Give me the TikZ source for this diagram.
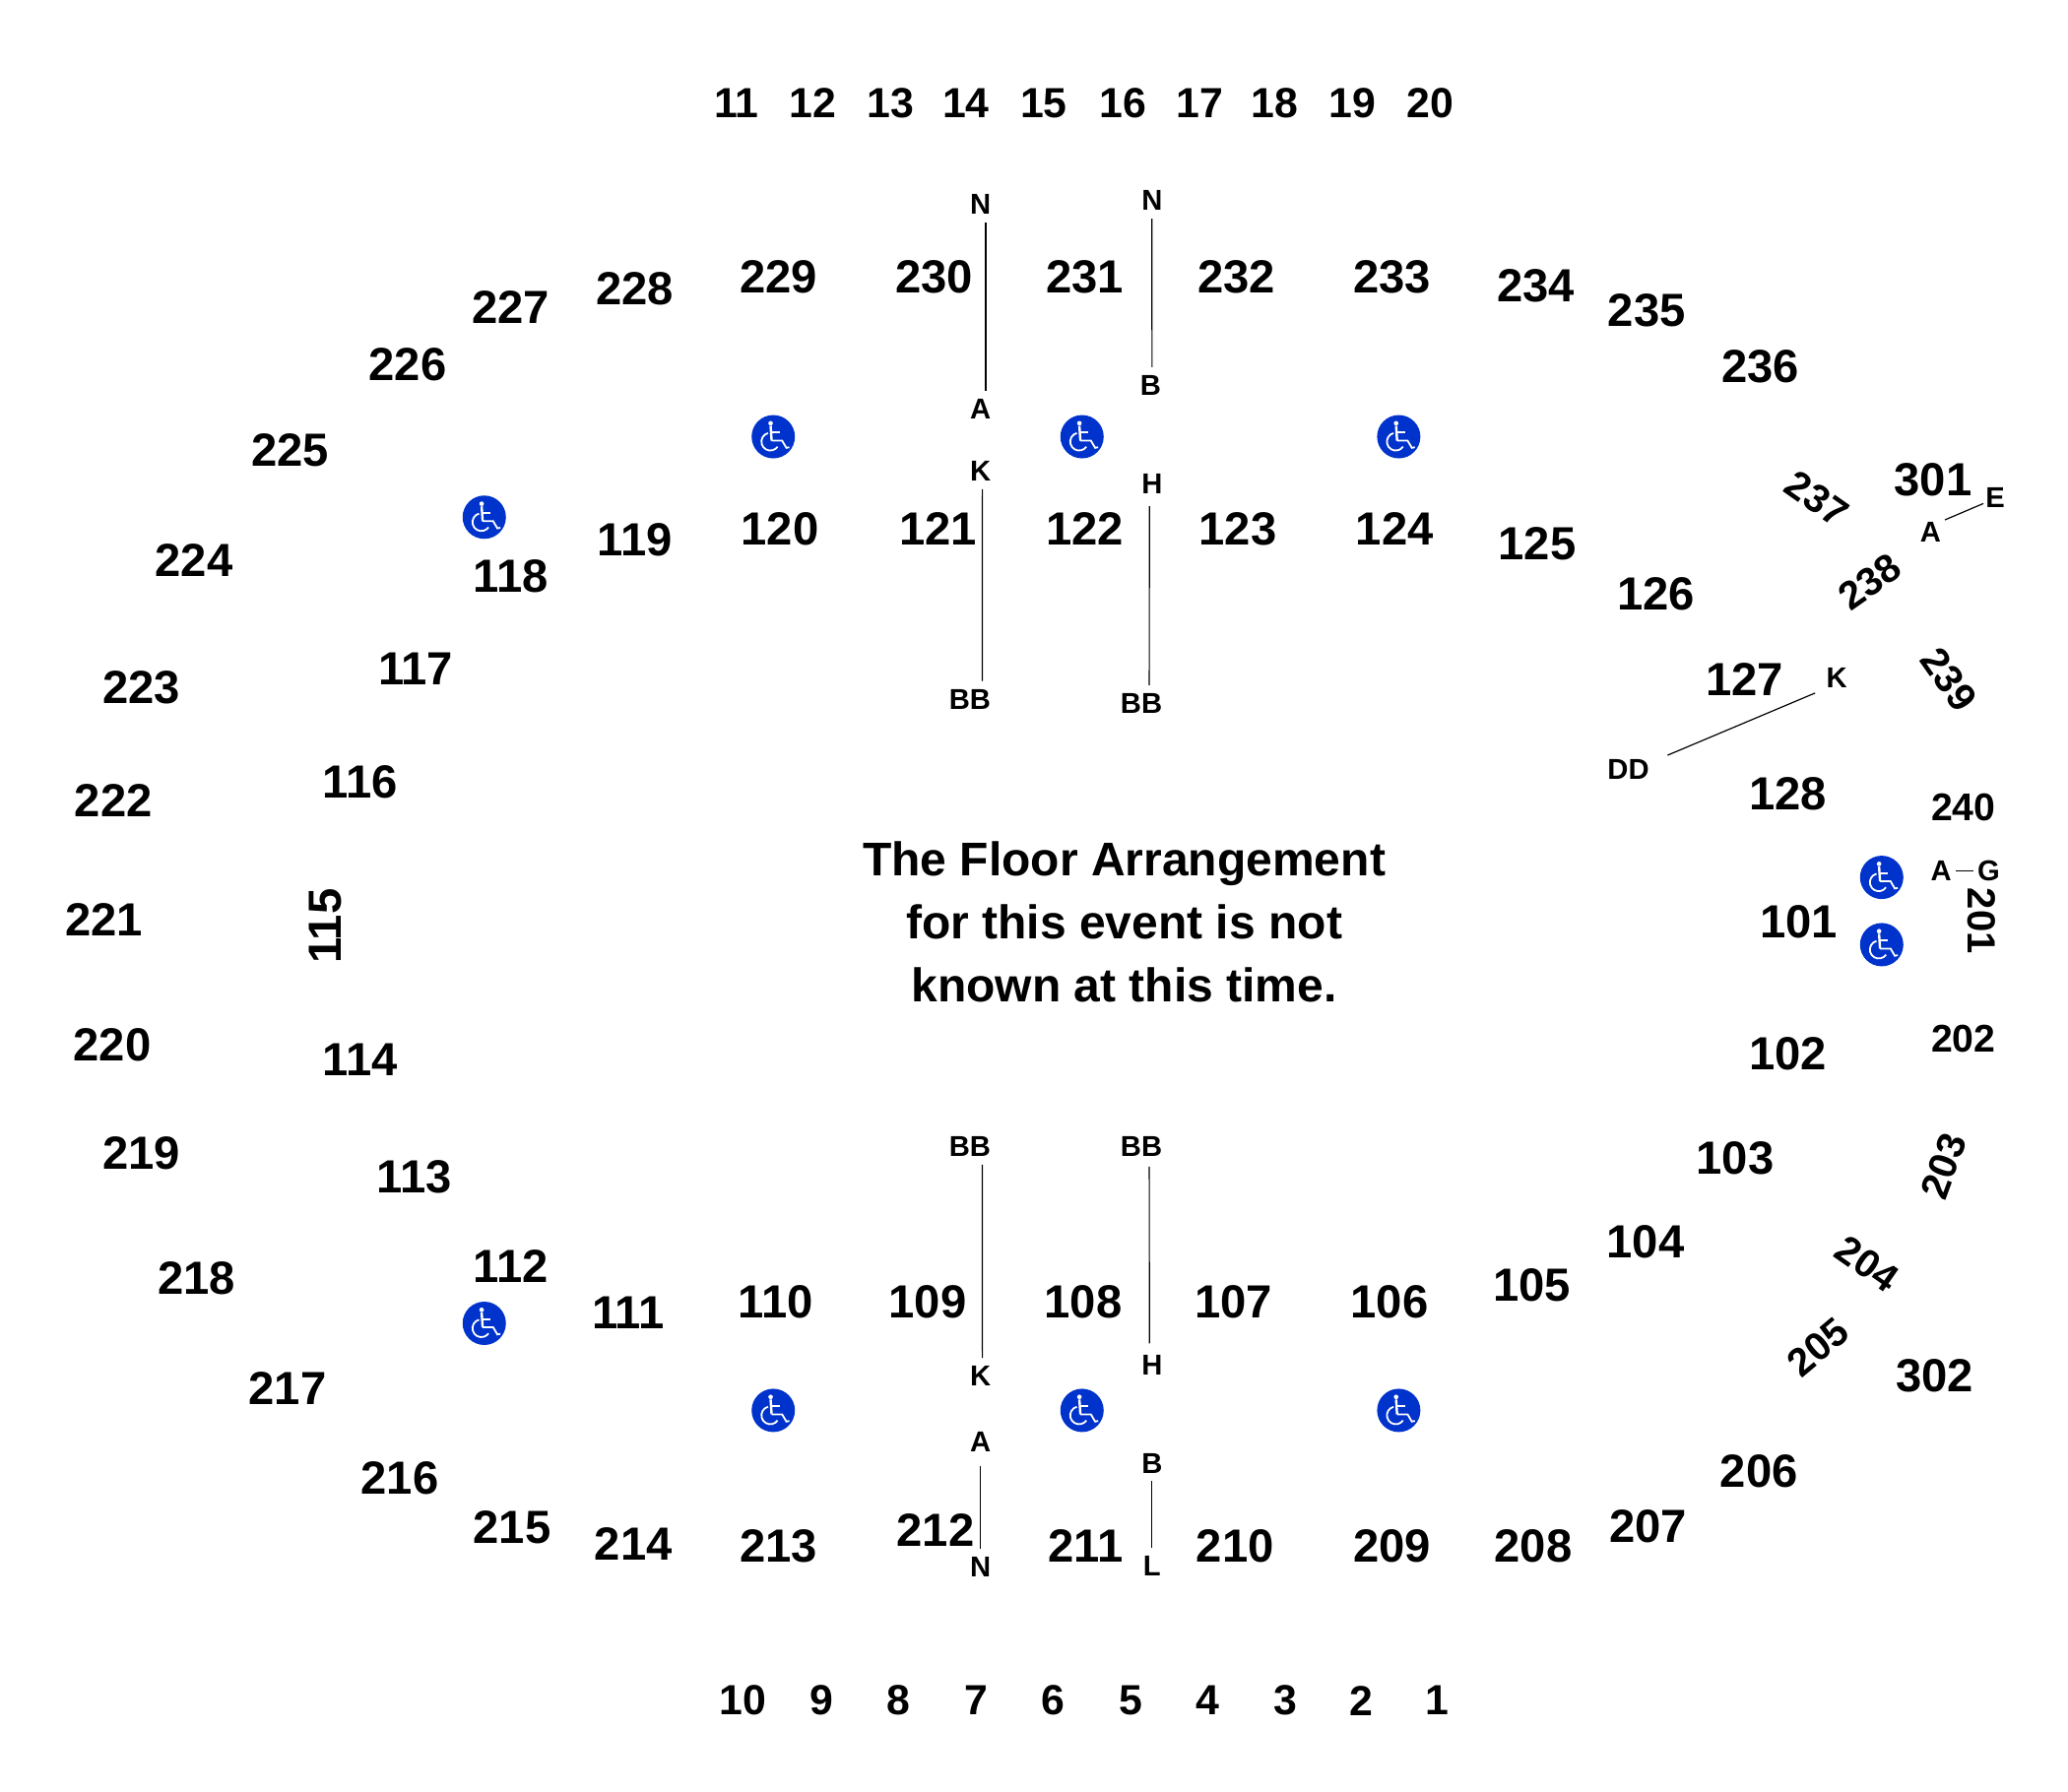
\documentclass[tikz,border=0pt]{standalone}
\usepackage{fontspec}
\setmainfont{Liberation Sans}
\definecolor{accessblue}{HTML}{0033CC}

\begin{document}
\begin{tikzpicture}[x=0.67pt,y=-0.67pt,
    section/.style ={inner sep = 0pt, font=\bfseries\fontsize{23.6}{24}\selectfont},
    sloped/.style ={inner sep = 0pt, font=\bfseries\fontsize{20}{20}\selectfont},
    smallsec/.style ={inner sep = 0pt, font=\bfseries\fontsize{19.6}{20}\selectfont},
    rownum/.style ={inner sep = 0pt, font=\bfseries\fontsize{21.4}{22}\selectfont},
    rowlabel/.style ={inner sep = 0pt, font=\bfseries\fontsize{14.6}{15}\selectfont},
    seam/.style ={line width=0.6pt, shorten >=4pt, shorten <=4pt},
    access/.pic ={
      \fill[accessblue] (0,0) circle (11pt);
      \begin{scope}[x=0.1667pt,y=-0.1667pt,white,line width=0.9pt]
        \fill (-8,-41) circle (7);
        \draw[line width=1.2pt] (-8,-33) -- (-5,12);
        \draw (-5,12) -- (27,12) -- (40,34) -- (49,32);
        \draw (-5,-13) -- (19,-13);
        \draw (-16,-11) arc (-105:-325:27);
      \end{scope}
    }]
   \useasboundingbox (0,0) rectangle (1567.2,1358.2);

   % top and bottom row numbers
   \node[rownum] (r11) at (558,78) {11};
   \node[rownum] (r12) at (616,78) {12};
   \node[rownum] (r13) at (675,78) {13};
   \node[rownum] (r14) at (732,78) {14};
   \node[rownum] (r15) at (791,78) {15};
   \node[rownum] (r16) at (851,78) {16};
   \node[rownum] (r17) at (909,78) {17};
   \node[rownum] (r18) at (966,78) {18};
   \node[rownum] (r19) at (1025,78) {19};
   \node[rownum] (r20) at (1084,78) {20};
   \node[rownum] (r10) at (563,1289) {10};
   \node[rownum] (r9) at (623,1289) {9};
   \node[rownum] (r8) at (681,1289) {8};
   \node[rownum] (r7) at (740,1289) {7};
   \node[rownum] (r6) at (798,1289) {6};
   \node[rownum] (r5) at (857,1289) {5};
   \node[rownum] (r4) at (915,1289) {4};
   \node[rownum] (r3) at (974,1289) {3};
   \node[rownum] (r2) at (1032,1289) {2};
   \node[rownum] (r1) at (1089,1289) {1};

   % upper level
   \node[sloped] (s201) [rotate=-90] at (1502,698) {201};
   \node[smallsec] (s202) at (1488,787) {202};
   \node[sloped] (s203) [rotate=70] at (1473,884) {203};
   \node[sloped] (s204) [rotate=-35] at (1415,958) {204};
   \node[sloped] (s205) [rotate=40] at (1378,1021) {205};
   \node[section] (s206) at (1333,1115) {206};
   \node[section] (s207) at (1249,1157) {207};
   \node[section] (s208) at (1162,1172) {208};
   \node[section] (s209) at (1055,1172) {209};
   \node[section] (s210) at (936,1172) {210};
   \node[section] (s211) at (823,1172) {211};
   \node[section] (s212) at (709,1160) {212};
   \node[section] (s213) at (590,1172) {213};
   \node[section] (s214) at (480,1170) {214};
   \node[section] (s215) at (388,1158) {215};
   \node[section] (s216) at (303,1120) {216};
   \node[section] (s217) at (218,1052) {217};
   \node[section] (s218) at (149,969) {218};
   \node[section] (s219) at (107,874) {219};
   \node[section] (s220) at (85,792) {220};
   \node[section] (s221) at (79,697) {221};
   \node[section] (s222) at (86,607) {222};
   \node[section] (s223) at (107,521) {223};
   \node[section] (s224) at (147,425) {224};
   \node[section] (s225) at (220,341) {225};
   \node[section] (s226) at (309,276) {226};
   \node[section] (s227) at (387,233) {227};
   \node[section] (s228) at (481,219) {228};
   \node[section] (s229) at (590,210) {229};
   \node[section] (s230) at (708,210) {230};
   \node[section] (s231) at (822,210) {231};
   \node[section] (s232) at (937,210) {232};
   \node[section] (s233) at (1055,210) {233};
   \node[section] (s234) at (1164,217) {234};
   \node[section] (s235) at (1248,235) {235};
   \node[section] (s236) at (1334,278) {236};
   \node[sloped] (s237) [rotate=-35] at (1377,378) {237};
   \node[sloped] (s238) [rotate=35] at (1417,441) {238};
   \node[sloped] (s239) [rotate=-55] at (1477,515) {239};
   \node[smallsec] (s240) at (1488,612) {240};
   \node[section] (s301) at (1465,364) {301};
   \node[section] (s302) at (1466,1043) {302};

   % lower level
   \node[section] (s101) at (1363,699) {101};
   \node[section] (s102) at (1355,799) {102};
   \node[section] (s103) at (1315,878) {103};
   \node[section] (s104) at (1247,941) {104};
   \node[section] (s105) at (1161,974) {105};
   \node[section] (s106) at (1053,987) {106};
   \node[section] (s107) at (935,987) {107};
   \node[section] (s108) at (821,987) {108};
   \node[section] (s109) at (703,987) {109};
   \node[section] (s110) at (588,987) {110};
   \node[section] (s111) at (476,995) {111};
   \node[section] (s112) at (387,960) {112};
   \node[section] (s113) at (314,892) {113};
   \node[section] (s114) at (273,803) {114};
   \node[section] (s115) [rotate=90] at (247,702) {115};
   \node[section] (s116) at (273,593) {116};
   \node[section] (s117) at (315,507) {117};
   \node[section] (s118) at (387,437) {118};
   \node[section] (s119) at (481,409) {119};
   \node[section] (s120) at (591,401) {120};
   \node[section] (s121) at (711,401) {121};
   \node[section] (s122) at (822,401) {122};
   \node[section] (s123) at (938,401) {123};
   \node[section] (s124) at (1057,401) {124};
   \node[section] (s125) at (1165,412) {125};
   \node[section] (s126) at (1255,450) {126};
   \node[section] (s127) at (1322,515) {127};
   \node[section] (s128) at (1355,602) {128};

   % row letters
   \node[rowlabel] (N1) at (743,155) {N};
   \node[rowlabel] (A1) at (743,310) {A};
   \node[rowlabel] (N2) at (873,152) {N};
   \node[rowlabel] (B1) at (872,292) {B};
   \node[rowlabel] (K1) at (743,357) {K};
   \node[rowlabel] (BB1) at (735,530) {BB};
   \node[rowlabel] (H1) at (873,367) {H};
   \node[rowlabel] (BB2) at (865,533) {BB};
   \node[rowlabel] (BB3) at (735,869) {BB};
   \node[rowlabel] (K2) at (743,1043) {K};
   \node[rowlabel] (BB4) at (865,869) {BB};
   \node[rowlabel] (H2) at (873,1035) {H};
   \node[rowlabel] (A2) at (743,1093) {A};
   \node[rowlabel] (N3) at (743,1188) {N};
   \node[rowlabel] (B2) at (873,1109) {B};
   \node[rowlabel] (L1) at (873,1187) {L};
   \node[rowlabel] (K3) at (1392,514) {K};
   \node[rowlabel] (DD1) at (1234,583) {DD};
   \node[rowlabel] (A3) at (1463,403) {A};
   \node[rowlabel] (E1) at (1512,377) {E};
   \node[rowlabel] (A4) at (1471,660) {A};
   \node[rowlabel] (G1) at (1507,660) {G};

   \draw[seam] ([xshift=2.7pt]N1.south) to ([xshift=2.7pt]A1.north);
   \draw[seam] (N2.south) to ([xshift=0.7pt]B1.north);
   \draw[seam] ([xshift=1pt]K1.south) to ([xshift=6.3pt]BB1.north);
   \draw[seam, shorten <=6pt] ([xshift=-1.3pt]H1.south) to ([xshift=4pt]BB2.north);
   \draw[seam] ([xshift=6.3pt]BB3.south) to ([xshift=1pt]K2.north);
   \draw[seam, shorten <=5pt, shorten >=6pt] ([xshift=4pt]BB4.south) to ([xshift=-1.3pt]H2.north);
   \draw[seam, shorten <=7pt] (A2.south) to (N3.north);
   \draw[seam] (B2.south) to (L1.north);
   \draw[seam, shorten <=6pt, shorten >=10pt] (K3.south west) to ([yshift=-2pt]DD1.north east);
   \draw[seam, shorten >=1pt, shorten <=2pt] (A3.north east) to ([yshift=2.5pt]E1.south west);
   \draw[seam, shorten >=2pt, shorten <=2pt] (A4.east) to (G1.west);

   % accessible seating
   \pic (w1) at (586,331) {access};
   \pic (w2) at (820,331) {access};
   \pic (w3) at (1060,331) {access};
   \pic (w4) at (367,392) {access};
   \pic (w5) at (1426,665) {access};
   \pic (w6) at (1426,716) {access};
   \pic (w7) at (367,1003) {access};
   \pic (w8) at (586,1069) {access};
   \pic (w9) at (820,1069) {access};
   \pic (w10) at (1060,1069) {access};

   \node[inner sep=0pt, align=center, font=\bfseries\fontsize{24}{32}\selectfont] (note) at (852,699)
     {The Floor Arrangement\\for this event is not\\known at this time.};
\end{tikzpicture}
\end{document}
